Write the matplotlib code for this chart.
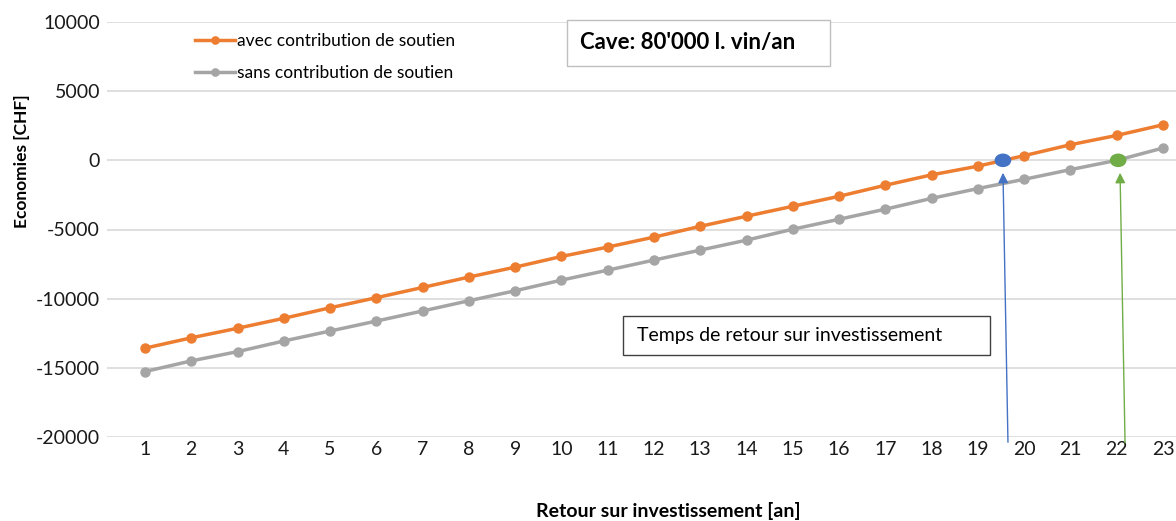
import matplotlib
matplotlib.use("Agg")
import matplotlib.pyplot as plt
from matplotlib.patches import Rectangle, Ellipse

# data
years = list(range(1, 24))
avec = [-13580, -12830, -12140, -11420, -10660, -9930, -9190, -8440, -7720, -6950,
        -6270, -5550, -4770, -4040, -3320, -2600, -1800, -1050, -420, 340,
        1130, 1800, 2570]
sans = [-15270, -14500, -13830, -13060, -12340, -11620, -10890, -10150, -9430, -8660,
        -7940, -7210, -6490, -5770, -4980, -4260, -3530, -2750, -2040, -1370,
        -670, 0, 890]
yticks = [-20000, -15000, -10000, -5000, 0, 5000, 10000]
payback_avec = 19.54
payback_sans = 22.03

plt.rcParams['font.family'] = ['Lato', 'DejaVu Sans']
plt.rcParams['axes.unicode_minus'] = False

W, H = 1176, 521
fig = plt.figure(figsize=(W / 100, H / 100), dpi=100)
ax = fig.add_axes([107 / W, 1 - 437 / H, 1069 / W, 415 / H])

orange = '#ED7D31'
grey = '#A5A5A5'
blue = '#4472C4'
green = '#70AD47'
ax.plot(years, avec, color=orange, lw=2.5, marker='o', ms=6.5,
        label='avec contribution de soutien', zorder=3)
ax.plot(years, sans, color=grey, lw=2.5, marker='o', ms=6.5,
        label='sans contribution de soutien', zorder=3)

# payback points (slightly wide dots) and arrows
ax.add_patch(Ellipse((payback_avec, 0), 0.33, 880, color=blue, zorder=4))
ax.add_patch(Ellipse((payback_sans, 0), 0.33, 880, color=green, zorder=4))
ax.annotate('', xy=(payback_avec, -700), xytext=(payback_avec + 0.11, -20580),
            arrowprops=dict(arrowstyle='-|>', color=blue, lw=1.0,
                            mutation_scale=15), annotation_clip=False)
ax.annotate('', xy=(payback_sans + 0.04, -700), xytext=(payback_sans + 0.15, -20620),
            arrowprops=dict(arrowstyle='-|>', color=green, lw=1.0,
                            mutation_scale=15), annotation_clip=False)

ax.set_xlim(0.18, 23.28)
ax.set_ylim(-20000, 10000)
ax.set_yticks(yticks)
ax.set_xticks(years)
ax.tick_params(length=0, labelsize=14, colors='#1a1a1a')
ax.tick_params(axis='x', pad=3)
ax.tick_params(axis='y', pad=5)
ax.grid(axis='y', color='#D9D9D9', lw=1.2)
ax.set_axisbelow(True)
for s in ax.spines.values():
    s.set_visible(False)

fig.text(22 / W, 1 - 161 / H, 'Economies [CHF]', rotation=90, fontsize=12.5,
         fontweight='bold', ha='center', va='center')
fig.text(668 / W, 1 - 511 / H, 'Retour sur investissement [an]', fontsize=14,
         fontweight='bold', ha='center', va='center')

ax.legend(loc='upper left', bbox_to_anchor=(195 / W, 1 - 33 / H),
          bbox_transform=fig.transFigure, frameon=False, borderaxespad=0,
          borderpad=0, fontsize=12.5, handlelength=2.3, handletextpad=0.1,
          labelspacing=0.9, markerscale=0.8)

# text boxes
fig.add_artist(Rectangle((567 / W, 1 - 66 / H), 263 / W, 46 / H,
                         transform=fig.transFigure, fc='white', ec='#BFBFBF', lw=1))
fig.text(580 / W, 1 - 43 / H, "Cave: 80'000 l. vin/an", fontsize=16,
         fontweight='bold', ha='left', va='center')
fig.add_artist(Rectangle((623 / W, 1 - 355 / H), 367 / W, 39 / H,
                         transform=fig.transFigure, fc='white', ec='#404040', lw=1))
fig.text(637 / W, 1 - 336 / H, 'Temps de retour sur investissement', fontsize=14,
         ha='left', va='center')

fig.savefig('out.png', dpi=100)
